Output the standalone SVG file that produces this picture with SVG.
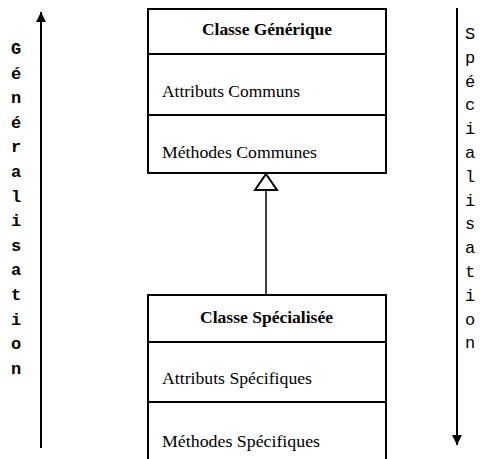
<svg xmlns="http://www.w3.org/2000/svg" width="480" height="459" viewBox="0 0 480 459">
<style>
.box{fill:#fff;stroke:#000;stroke-width:2}
.div{stroke:#000;stroke-width:2}
.t{font-family:"Liberation Serif",serif;font-size:16px;fill:#000}
.tb{font-family:"Liberation Serif",serif;font-size:16px;font-weight:bold;fill:#000}
.v{font-family:"Liberation Mono",monospace;font-size:17px;fill:#000;text-anchor:middle}
</style>
<defs>
<marker id="ah" viewBox="0 0 10 10" refX="10" refY="5" markerWidth="10" markerHeight="10" markerUnits="userSpaceOnUse" orient="auto"><path d="M0,0L10,5L0,10z" fill="#000"/></marker>
</defs>
<rect width="480" height="459" fill="#fff"/>
<g id="connectors">
<line x1="266" y1="295" x2="266" y2="190" stroke="#000" stroke-width="1.5"/>
<path d="M266,174L277,190L255,190z" fill="#fff" stroke="#000" stroke-width="2"/>
<line id="gen-arrow" x1="41" y1="448" x2="41" y2="12" stroke="#000" stroke-width="2" marker-end="url(#ah)"/>
<line id="spec-arrow" x1="457" y1="8" x2="457" y2="445" stroke="#000" stroke-width="2" marker-end="url(#ah)"/>
</g>
<g id="classe-generique">
<rect class="box" x="148" y="9" width="238" height="164"/>
<line class="div" x1="148" y1="54" x2="386" y2="54"/>
<line class="div" x1="148" y1="115" x2="386" y2="115"/>
<text class="tb" x="202" y="35" textLength="130" lengthAdjust="spacingAndGlyphs">Classe Générique</text>
<text class="t" x="162" y="97" textLength="138" lengthAdjust="spacingAndGlyphs">Attributs Communs</text>
<text class="t" x="162" y="158" textLength="155" lengthAdjust="spacingAndGlyphs">Méthodes Communes</text>
</g>
<g id="classe-specialisee">
<rect class="box" x="148" y="295" width="238" height="175"/>
<line class="div" x1="148" y1="342" x2="386" y2="342"/>
<line class="div" x1="148" y1="402" x2="386" y2="402"/>
<text class="tb" x="200" y="323" textLength="133" lengthAdjust="spacingAndGlyphs">Classe Spécialisée</text>
<text class="t" x="162" y="384" textLength="150" lengthAdjust="spacingAndGlyphs">Attributs Spécifiques</text>
<text class="t" x="162" y="447" textLength="158" lengthAdjust="spacingAndGlyphs">Méthodes Spécifiques</text>
</g>
<g id="generalisation-label" class="v" font-weight="bold">
<text x="16" y="54">G</text><text x="16" y="78.6">é</text><text x="16" y="103.2">n</text><text x="16" y="127.8">é</text><text x="16" y="152.4">r</text><text x="16" y="177">a</text><text x="16" y="201.6">l</text><text x="16" y="226.2">i</text><text x="16" y="250.8">s</text><text x="16" y="275.4">a</text><text x="16" y="300">t</text><text x="16" y="324.6">i</text><text x="16" y="349.2">o</text><text x="16" y="373.8">n</text>
</g>
<g id="specialisation-label" class="v">
<text x="470" y="39">S</text><text x="470" y="62.8">p</text><text x="470" y="86.6">é</text><text x="470" y="110.4">c</text><text x="470" y="134.2">i</text><text x="470" y="158">a</text><text x="470" y="181.8">l</text><text x="470" y="205.6">i</text><text x="470" y="229.4">s</text><text x="470" y="253.2">a</text><text x="470" y="277">t</text><text x="470" y="300.8">i</text><text x="470" y="324.6">o</text><text x="470" y="348.4">n</text>
</g>
</svg>
